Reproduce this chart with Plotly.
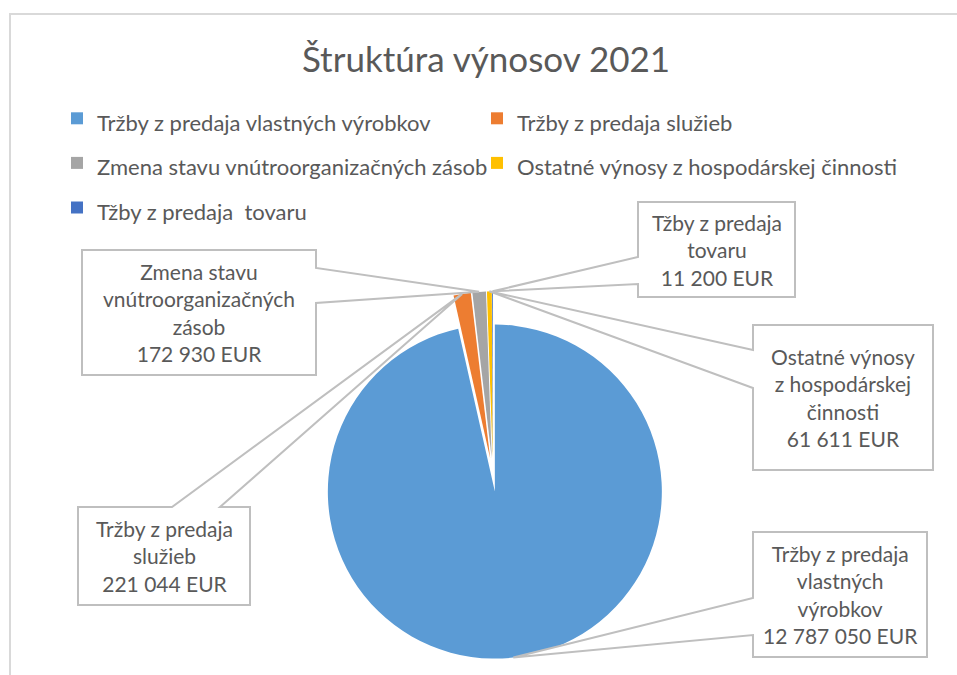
import numpy as np
import plotly.graph_objects as go

W, H = 957, 675

# ---- data ----
labels = ["Tržby z predaja vlastných výrobkov", "Tržby z predaja služieb",
          "Zmena stavu vnútroorganizačných zásob", "Ostatné výnosy z hospodárskej činnosti",
          "Tžby z predaja  tovaru"]
values = [12787050, 221044, 172930, 61611, 11200]
callout_names = [["Tržby z predaja", "vlastných", "výrobkov"],
                 ["Tržby z predaja", "služieb"],
                 ["Zmena stavu", "vnútroorganizačných", "zásob"],
                 ["Ostatné výnosy", "z hospodárskej", "činnosti"],
                 ["Tžby z predaja", "tovaru"]]
colors = ["#5B9BD5", "#ED7D31", "#A5A5A5", "#FFC000", "#4472C4"]

# ---- layout geometry (pixels) ----
CX, CY, R, PULL = 493, 475, 167, 0.1
half = R * (1 + PULL)
FONT = "Lato"
TXT = "#595959"
LINE = "#BFBFBF"

# callout boxes: x0, y0, x1, y1, side of the pointer, base1, base2
boxes = [
    (753, 532, 927, 657, "left", 598, 635),
    (78, 507, 250, 605, "top", 172, 220),
    (82, 250, 316, 375, "right", 268, 303),
    (753, 325, 933, 470, "left", 350, 388),
    (638, 202, 795, 297, "left", 257, 284),
]


def px(x):
    return x / W


def py(y):
    return 1 - y / H


fig = go.Figure()
fig.add_trace(go.Pie(
    labels=[f'<span style="font-size:22px">{l}</span>' for l in labels],
    values=values,
    sort=False,
    direction="clockwise",
    rotation=0,
    pull=PULL,
    marker=dict(colors=colors, line=dict(width=0)),
    textinfo="none",
    hoverinfo="value",
    domain=dict(x=[px(CX - half), px(CX + half)], y=[py(CY + half), py(CY - half)]),
))

# slice mid-angles (from values) for callout tips
vals = np.array(values, dtype=float)
frac = vals / vals.sum()
start = np.concatenate([[0], np.cumsum(frac)[:-1]])
mid = (start + frac / 2) * 2 * np.pi

shapes = [dict(type="rect", xref="paper", yref="paper", x0=px(10), y0=-0.05, x1=1.05, y1=py(14),
               line=dict(color="#D9D9D9", width=2), layer="below")]
annotations = []
for i, (x0, y0, x1, y1, side, b1, b2) in enumerate(boxes):
    tx = CX + (1 + PULL) * R * np.sin(mid[i])
    ty = CY - (1 + PULL) * R * np.cos(mid[i])
    if side == "top":
        pts = [(x0, y0), (b1, y0), (tx, ty), (b2, y0), (x1, y0), (x1, y1), (x0, y1)]
    elif side == "right":
        pts = [(x0, y0), (x1, y0), (x1, b1), (tx, ty), (x1, b2), (x1, y1), (x0, y1)]
    else:
        pts = [(x0, y0), (x1, y0), (x1, y1), (x0, y1), (x0, b2), (tx, ty), (x0, b1)]
    path = "M " + " L ".join(f"{px(a):.5f},{py(b):.5f}" for a, b in pts) + " Z"
    shapes.append(dict(type="path", xref="paper", yref="paper", path=path,
                       fillcolor="white", line=dict(color=LINE, width=2)))
    val_txt = f"{values[i]:,}".replace(",", " ") + " EUR"
    annotations.append(dict(
        x=px((x0 + x1) / 2), y=py((y0 + y1) / 2), xref="paper", yref="paper",
        text="<br>".join(callout_names[i] + [val_txt]), showarrow=False,
        xanchor="center", yanchor="middle", align="center",
        font=dict(family=FONT, size=21, color=TXT)))

fig.update_layout(
    width=W, height=H,
    margin=dict(l=0, r=0, t=0, b=0),
    paper_bgcolor="white", plot_bgcolor="white",
    title=dict(text="Štruktúra výnosov 2021", x=px(486), xanchor="center",
               y=py(60), yanchor="middle", yref="container",
               font=dict(family=FONT, size=35, color=TXT)),
    legend=dict(orientation="h", x=px(57), xanchor="left", y=py(91), yanchor="top",
                entrywidth=375, entrywidthmode="pixels",
                font=dict(family=FONT, size=32, color=TXT), bgcolor="rgba(0,0,0,0)"),
    shapes=shapes,
    annotations=annotations,
)

fig.write_html("out.html")
